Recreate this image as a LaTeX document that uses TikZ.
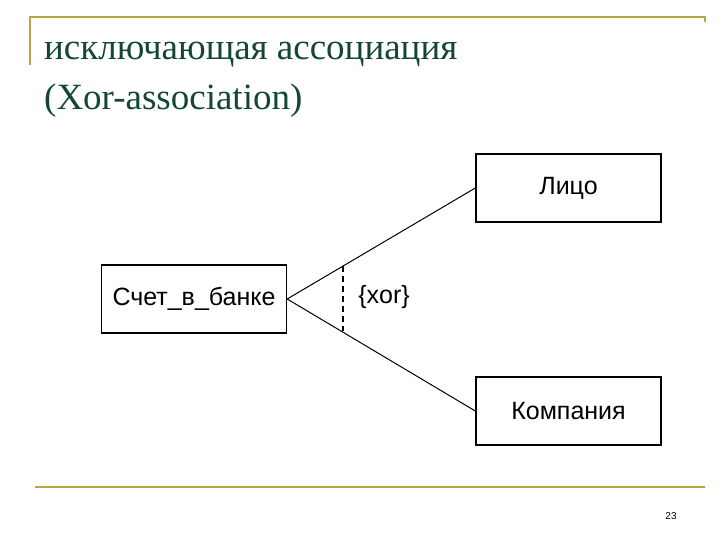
\documentclass[tikz,border=0pt]{standalone}
\usepackage{fontspec}
\setmainfont{Liberation Serif}
\newfontfamily\diag{Liberation Sans}
\definecolor{gold}{RGB}{190,160,70}
\definecolor{titlegreen}{RGB}{20,70,55}
\begin{document}
\begin{tikzpicture}[x=1pt,y=-1pt,
  cls/.style={draw,line width=1.4pt,minimum width=185pt,minimum height=68pt,font=\diag\fontsize{25}{27}\selectfont,inner sep=0pt},
  rule/.style={gold,line width=2.2pt},
  assoc/.style={line width=1pt}]
\useasboundingbox (0,0) rectangle (720,540);
\draw[rule] (30,65) -- (30,17) -- (705,17) -- (705,22);
\draw[rule] (35,487) -- (705,487);
\node[anchor=base west,text=titlegreen,font=\fontsize{37}{40}\selectfont,inner sep=0pt] (t1) at (44,60) {исключающая ассоциация};
\node[anchor=base west,text=titlegreen,font=\fontsize{37}{40}\selectfont,inner sep=0pt] (t2) at (44,110) {(Xor-association)};
\node[cls] (lico) at (568.5,188) {Лицо};
\node[cls] (schet) at (194,299) {Счет\_в\_банке};
\node[cls] (komp) at (568.5,411) {Компания};
\draw[assoc] (schet.east) -- (lico.west);
\draw[assoc] (schet.east) -- (komp.west);
\coordinate (d1) at (343,266);
\coordinate (d2) at (343,331);
\draw[assoc,dash pattern=on 6pt off 4pt,line width=1.3pt] (d1) -- (d2);
\node[font=\diag\fontsize{25}{27}\selectfont] (xor) at (384,297) {\{xor\}};
\node[font=\diag\fontsize{10}{11}\selectfont] (num) at (671,516) {23};
\end{tikzpicture}
\end{document}
